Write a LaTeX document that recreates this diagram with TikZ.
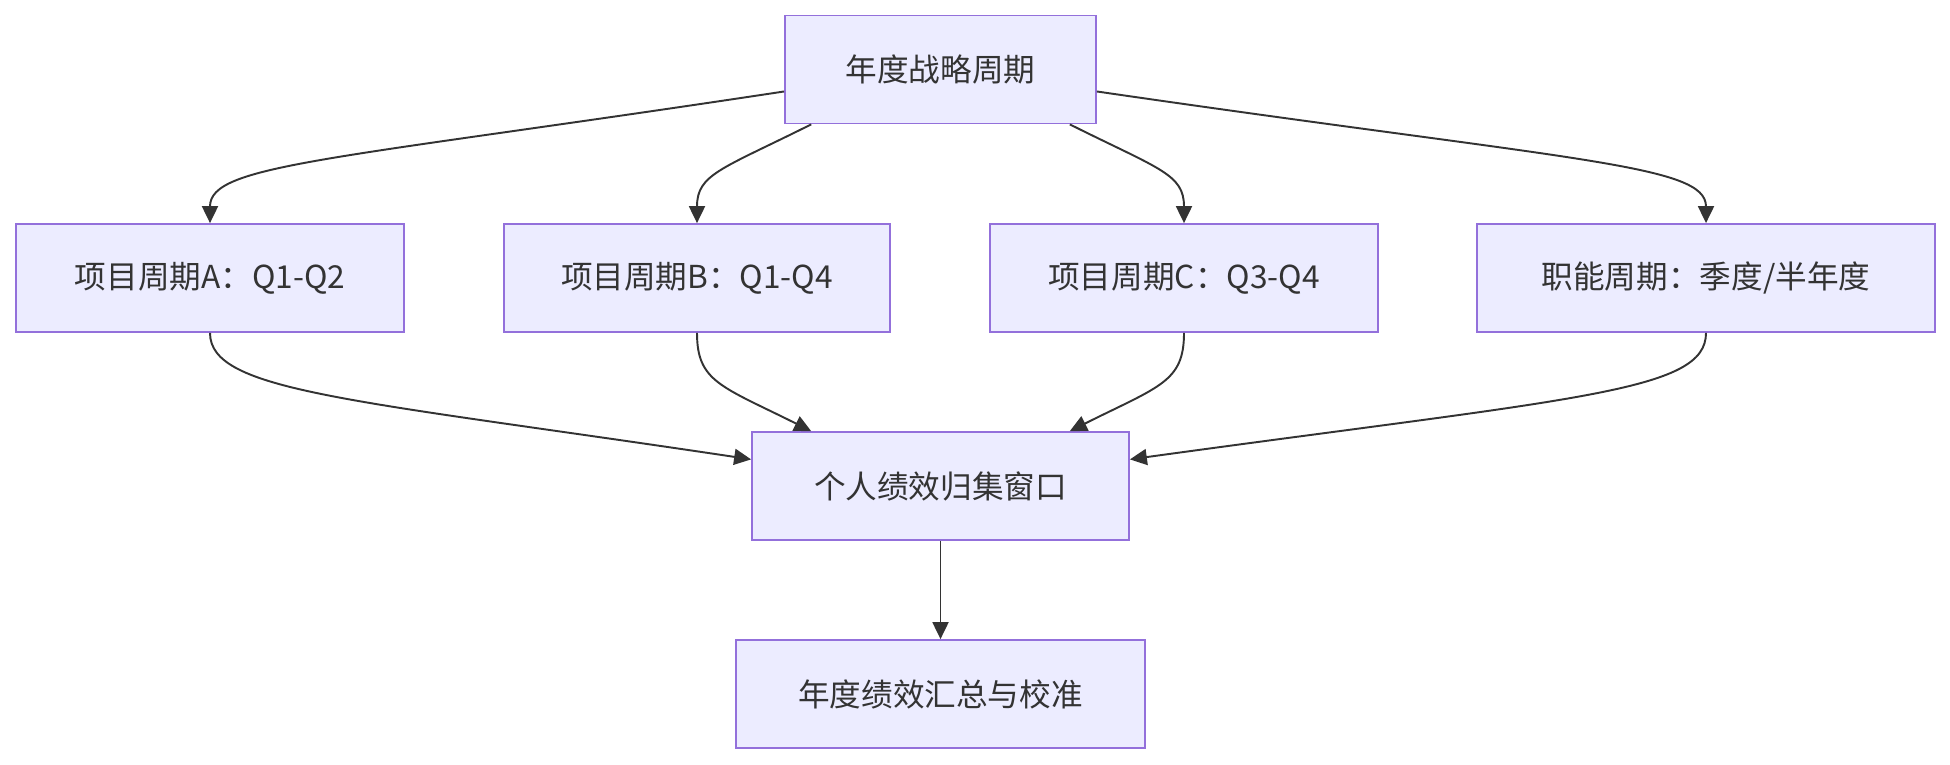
\documentclass[tikz,border=0pt]{standalone}
\usepackage{fontspec}
\newfontfamily\cjk{Noto Sans CJK SC}
\usetikzlibrary{arrows.meta,positioning}
\definecolor{pfill}{HTML}{ECECFF}
\definecolor{pline}{HTML}{9370DB}
\definecolor{ptext}{HTML}{333333}
\tikzset{
  pbox/.style={draw=pline, fill=pfill, line width=1pt, rectangle, inner sep=0pt,
    minimum height=108*0.02cm, text=ptext, font=\cjk\fontsize{18}{22}\selectfont},
  parrow/.style={-{Triangle[length=0.34cm, width=0.32cm]}, draw=ptext, line width=1.1pt},
}
\begin{document}
\begin{tikzpicture}[x=0.02cm, y=-0.02cm]
  \useasboundingbox (0,0) rectangle (1950,764);
  \node[pbox, minimum width=311*0.02cm] (top) at (940.5,69.5) {年度战略周期};
  \node[pbox, minimum width=388*0.02cm] (pa) at (210,278) {项目周期A：Q1-Q2};
  \node[pbox, minimum width=386*0.02cm] (pb) at (697,278) {项目周期B：Q1-Q4};
  \node[pbox, minimum width=388*0.02cm] (pc) at (1184,278) {项目周期C：Q3-Q4};
  \node[pbox, minimum width=458*0.02cm] (fn) at (1706,278) {职能周期：季度/半年度};
  \node[pbox, minimum width=377*0.02cm] (win) at (940.5,486) {个人绩效归集窗口};
  \node[pbox, minimum width=409*0.02cm] (sum) at (940.5,694) {年度绩效汇总与校准};

  \draw[parrow] (top.188) .. controls +(-455,69) and +(0,-59) .. (pa.north);
  \draw[parrow] (top.203) .. controls +(-90,45) and +(0,-49) .. (pb.north);
  \draw[parrow] (top.337) .. controls +(90,45) and +(0,-49) .. (pc.north);
  \draw[parrow] (top.352) .. controls +(480,70) and +(0,-59) .. (fn.north);

  \draw[parrow] (pa.south) .. controls +(0,59) and +(-400,-60) .. (win.172);
  \draw[parrow] (pb.south) .. controls +(0,49) and +(-90,-45) .. (win.157);
  \draw[parrow] (pc.south) .. controls +(0,49) and +(90,-45) .. (win.23);
  \draw[parrow] (fn.south) .. controls +(0,59) and +(450,-62) .. (win.8);

  \draw[parrow] (win) -- (sum);
\end{tikzpicture}
\end{document}
